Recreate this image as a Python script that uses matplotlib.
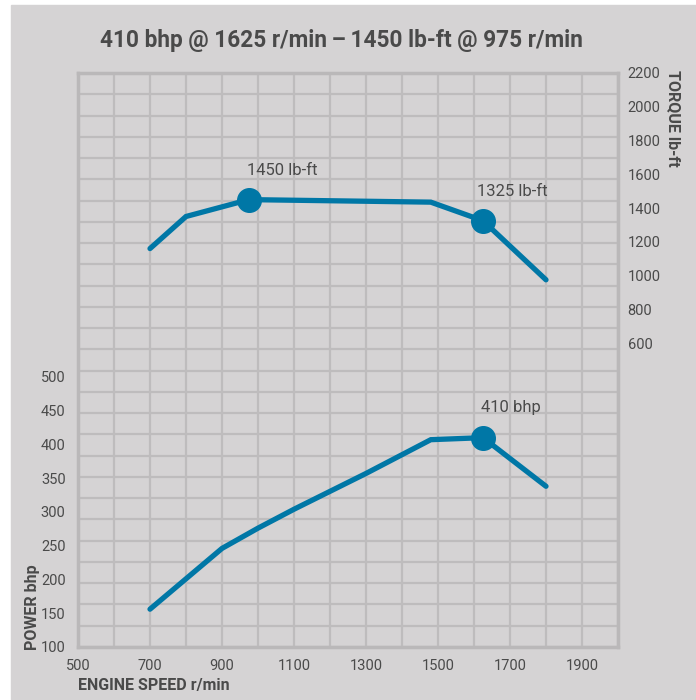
import numpy as np
import matplotlib
matplotlib.use("Agg")
import matplotlib.pyplot as plt
from matplotlib.patches import Rectangle

# data
rpm_power = [700, 800, 900, 1000, 1100, 1300, 1480, 1625, 1800]
power_bhp = [156, 201, 246, 276, 304, 357, 407, 410, 338]

rpm_torque = [700, 800, 975, 1480, 1625, 1800]
torque_lbft = [1160, 1350, 1450, 1435, 1325, 975]

torque_peaks_rpm = [975, 1625]
torque_peaks = [1450, 1325]
torque_peak_labels = ["1450 lb-ft", "1325 lb-ft"]
power_peak_rpm = [1625]
power_peak = [410]
power_peak_labels = ["410 bhp"]

x_ticks = [500, 700, 900, 1100, 1300, 1500, 1700, 1900]
power_ticks = [100, 150, 200, 250, 300, 350, 400, 450, 500]
torque_ticks = [600, 800, 1000, 1200, 1400, 1600, 1800, 2000, 2200]

title = "410 bhp @ 1625 r/min\u2009\u2013\u20091450 lb-ft @ 975 r/min"

BG = "#d5d3d4"
GRID = "#bebcbd"
BLUE = "#0077a6"
TEXT = "#4a4a4a"

plt.rcParams["font.family"] = ["Roboto", "DejaVu Sans"]

fig = plt.figure(figsize=(6.96, 7.0), dpi=100, facecolor="white")
fig.patches.append(Rectangle((11 / 696, 0), 1 - 11 / 696, 1 - 5 / 700,
                             transform=fig.transFigure, color=BG, zorder=-10))

ax = fig.add_axes([78 / 696, 1 - 647 / 700, 540 / 696, 574 / 700])
ax.set_facecolor(BG)
ax.set_xlim(500, 2000)
ax.set_ylim(100, 950)

# background grid: 15 columns x 27 rows
for gx in np.arange(500, 2001, 100):
    ax.axvline(gx, color=GRID, lw=1.6, zorder=1)
for gy in np.linspace(100, 950, 28):
    ax.axhline(gy, color=GRID, lw=1.6, zorder=1)

for s in ax.spines.values():
    s.set_color("#bab8b9")
    s.set_linewidth(2.5)

ax.plot(rpm_power, power_bhp, color=BLUE, lw=3.8, solid_capstyle="round",
        solid_joinstyle="miter", zorder=3)
ax.plot(power_peak_rpm, power_peak, "o", color=BLUE, ms=17, zorder=4)
for x, y, t in zip(power_peak_rpm, power_peak, power_peak_labels):
    ax.annotate(t, (x, y), xytext=(20, 22), textcoords="offset points",
                ha="center", va="center", fontsize=12, color=TEXT)

ax.set_xticks(x_ticks)
ax.set_yticks(power_ticks)
ax.tick_params(length=0, labelsize=10.5, labelcolor=TEXT)
ax.tick_params(axis="x", pad=9)
ax.tick_params(axis="y", pad=9)
ax.set_xlabel("ENGINE SPEED r/min", loc="left", fontsize=11.5, fontweight="bold",
              color=TEXT, labelpad=3)

ax2 = ax.twinx()
ax2.set_ylim(-1200, 2200)
for s in ax2.spines.values():
    s.set_visible(False)
ax2.plot(rpm_torque, torque_lbft, color=BLUE, lw=3.8, solid_capstyle="round",
         solid_joinstyle="miter", zorder=3)
ax2.plot(torque_peaks_rpm, torque_peaks, "o", color=BLUE, ms=17, zorder=4)
for x, y, t, dx in zip(torque_peaks_rpm, torque_peaks, torque_peak_labels, [24, 21]):
    ax2.annotate(t, (x, y), xytext=(dx, 21), textcoords="offset points",
                 ha="center", va="center", fontsize=12, color=TEXT)
ax2.set_yticks(torque_ticks)
ax2.tick_params(length=0, labelsize=10.5, labelcolor=TEXT, pad=7)

# axis titles placed like the original (power at bottom-left, torque top-right)
fig.text(32 / 696, 1 - 650 / 700, "POWER bhp", rotation=90, ha="center",
         va="bottom", fontsize=11.5, fontweight="bold", color=TEXT)
fig.text(673 / 696, 1 - 70 / 700, "TORQUE lb-ft", rotation=-90, ha="center",
         va="top", fontsize=11.5, fontweight="bold", color=TEXT)

fig.text(341 / 696, 1 - 40 / 700, title, ha="center", va="center",
         fontsize=16.3, fontweight="bold", color=TEXT)

fig.savefig("out.png", dpi=100, facecolor=fig.get_facecolor())
